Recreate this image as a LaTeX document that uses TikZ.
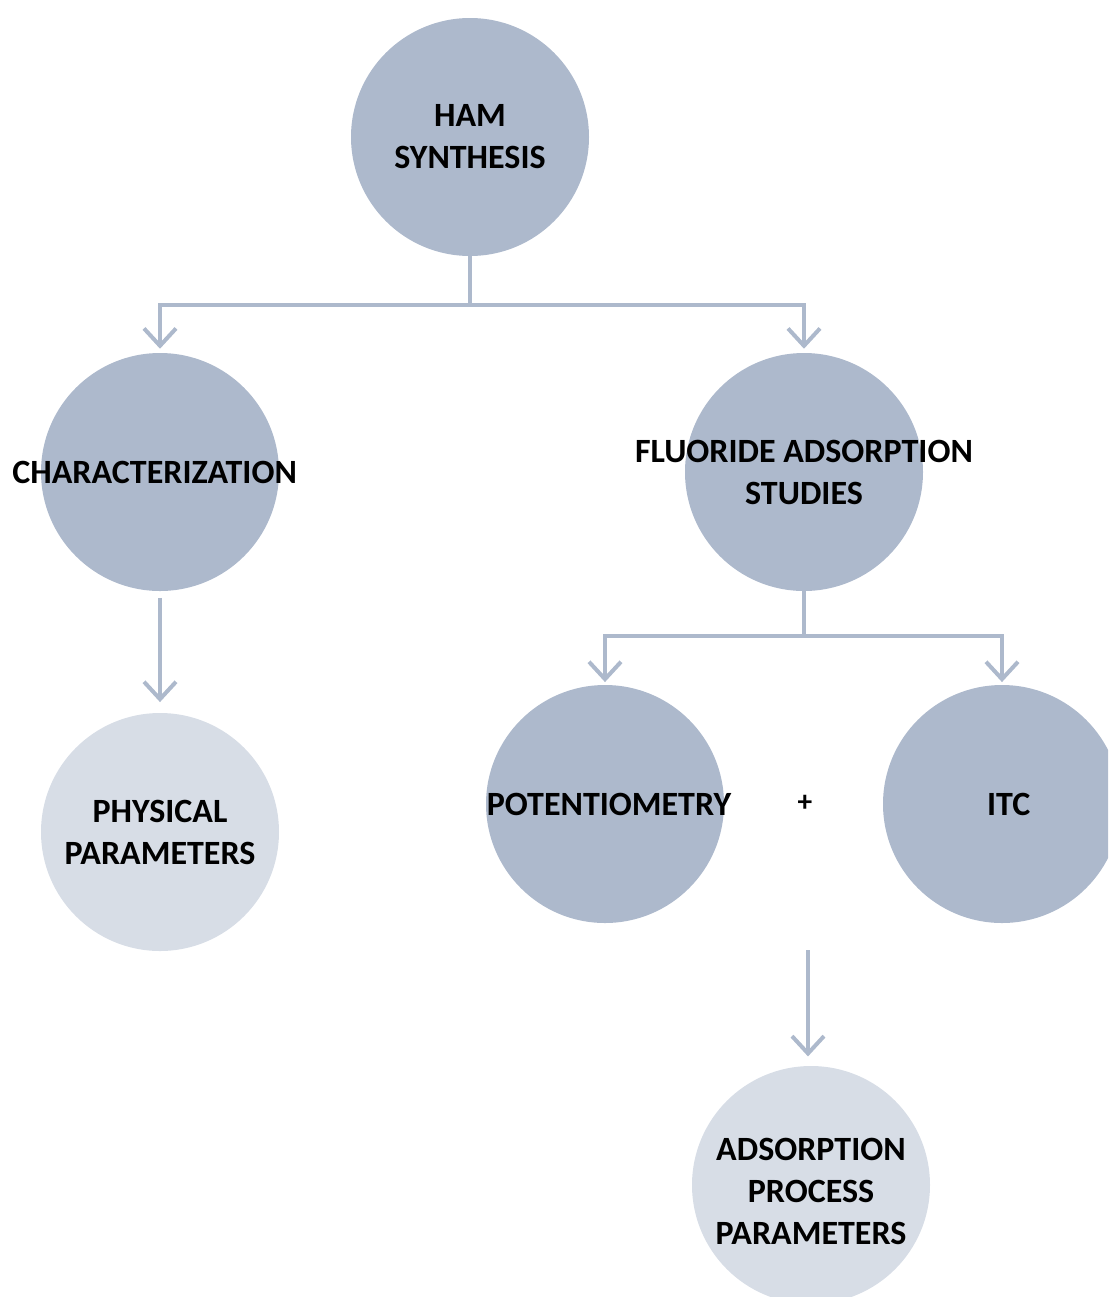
\documentclass[tikz,border=0pt]{standalone}
\usepackage{fontspec}
\setmainfont{Carlito}
\usetikzlibrary{arrows.meta}

\definecolor{bub}{HTML}{ADB9CC}
\definecolor{bublight}{HTML}{D7DDE6}

\begin{document}
\begin{tikzpicture}[x=0.75pt,y=-0.75pt,
  bubtext/.style={font=\fontsize{25.5}{31.5}\selectfont\bfseries,align=center},
  disc/.style={circle,fill=bub,minimum size=178.5pt,inner sep=0pt},
  bubble/.style={disc,label={[bubtext]center:#1}},
  result/.style={disc,fill=bublight,label={[bubtext,yshift=-5pt]center:#1}},
  link/.style={draw=bub,line width=3pt,
    -{Straight Barb[length=13pt,width=24pt,line width=3pt]}}]

\useasboundingbox (0,0) rectangle (1108,1297);
\clip (0,0) rectangle (1108,1297);

% circles
\node[bubble={HAM\\SYNTHESIS}] (ham) at (470,137) {};
\node[bubble={CHARACTERIZATION\hspace*{8pt}}] (char) at (160,472) {};
\node[bubble={FLUORIDE ADSORPTION\\STUDIES}] (fluor) at (804,472) {};
\node[bubble={\hspace*{6pt}POTENTIOMETRY}] (pot) at (605,804) {};
\node[bubble={\hspace*{10pt}ITC}] (itc) at (1002,804) {};
\node[bubble={PHYSICAL\\PARAMETERS},fill=bublight] (phys) at (160,832) {};
\node[result={ADSORPTION\\PROCESS\\PARAMETERS}] (ads) at (811,1185) {};
\node[font=\fontsize{22}{24}\selectfont\bfseries] (plus) at (805,803) {+};

% links
\draw[link,shorten >=3pt] (ham.south) -- ++(0,49) -| (char.north);
\draw[link,shorten >=3pt] (ham.south) -- ++(0,49) -| (fluor.north);
\draw[link,shorten <=5pt,shorten >=8pt] (char.south) -- (phys.north);
\draw[link,shorten >=2pt] (fluor.south) -- ++(0,45) -| (pot.north);
\draw[link,shorten >=2pt] (fluor.south) -- ++(0,45) -| (itc.north);
\coordinate (join) at (808,950);
\draw[link,shorten >=7pt] (join) -- (join |- ads.north);

\end{tikzpicture}
\end{document}
